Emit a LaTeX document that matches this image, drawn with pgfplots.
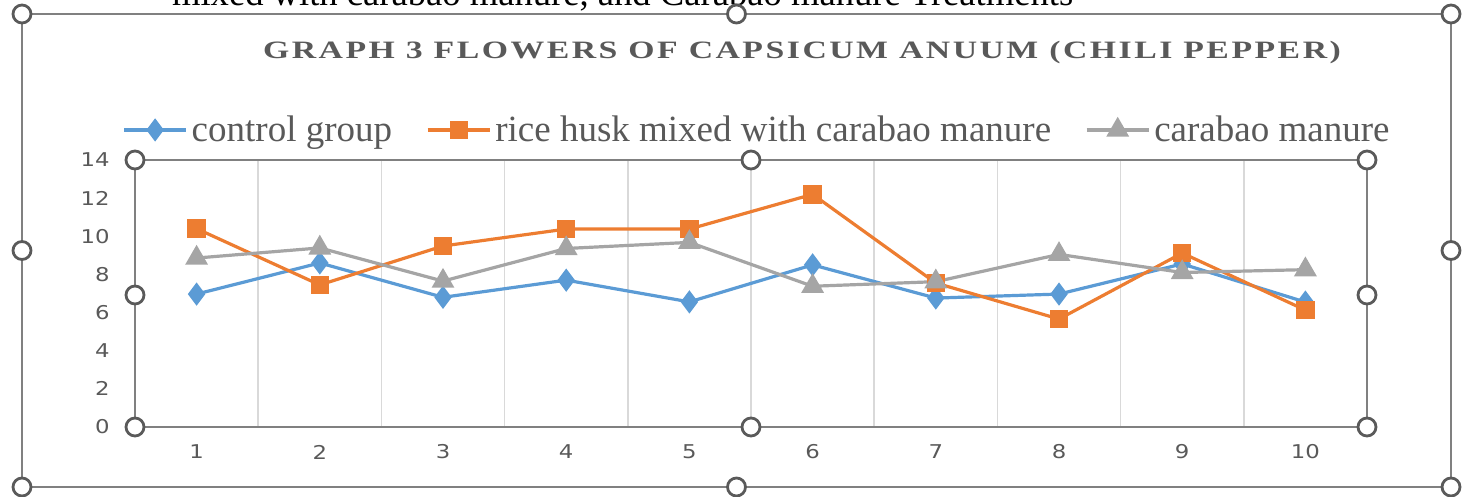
\documentclass[border=0pt]{standalone}
\usepackage{pgfplots}
\pgfplotsset{compat=1.18}
\usepackage{fontspec}
\setmainfont{Liberation Serif}
\newfontfamily\tickfont[FakeStretch=1.2]{DejaVu Sans}
\newfontfamily\titlefont[FakeStretch=1.35,LetterSpace=10]{Liberation Serif}
\definecolor{cblue}{HTML}{5B9BD5}
\definecolor{corange}{HTML}{ED7D31}
\definecolor{cgray}{HTML}{A5A5A5}
\definecolor{txtgray}{HTML}{595959}
\definecolor{framegray}{HTML}{808080}
\definecolor{handle}{HTML}{5A5A5A}
\definecolor{gridgray}{HTML}{D9D9D9}
\begin{document}
\begin{tikzpicture}[handle/.style={circle,draw=handle,line width=1.4pt,fill=white,minimum size=9pt,inner sep=0pt}]
\useasboundingbox (0,0) rectangle (733pt,248.5pt);
\clip (0,0) rectangle (733pt,248.5pt);
% outer chart frame
\draw[framegray,line width=1pt] (11pt,5pt) rectangle (725.5pt,241.5pt);
\node[anchor=base west,font=\fontsize{18.3}{20}\selectfont] at (82.5pt,245.5pt) {mixed with carabao manure, and Carabao manure Treatments};
\node[anchor=base,text=txtgray,font=\titlefont\bfseries\fontsize{12.5}{14}\selectfont] at (401pt,219pt) {GRAPH 3 FLOWERS OF CAPSICUM ANUUM (CHILI PEPPER)};
\begin{axis}[
  at={(67.5pt,35pt)}, anchor=south west,
  scale only axis, width=616pt, height=133.5pt,
  xmin=0.5, xmax=10.5, ymin=0, ymax=14,
  xtick={1,...,10}, ytick={0,2,...,14},
  minor xtick={1.5,2.5,...,9.5},
  xminorgrids, minor grid style={gridgray,line width=0.8pt},
  major tick length=0pt, minor tick length=0pt,
  axis line style={framegray,line width=1pt},
  /pgf/number format/assume math mode=true,
  tick label style={font=\tickfont\fontsize{9.5}{11}\selectfont,text=txtgray,inner sep=0pt},
  xticklabel style={anchor=center,yshift=-12.5pt},
  yticklabel style={anchor=east,xshift=-12.5pt},
  legend columns=3,
  legend style={at={(0.5057,1.1124)},anchor=center,draw=none,fill=none,
    font=\fontsize{18.5}{20}\selectfont,text=txtgray,
    /tikz/every even column/.append style={column sep=15pt},
    nodes={inner sep=2pt}},
  legend image code/.code={\draw[mark repeat=2,mark phase=2,#1] plot coordinates {(0pt,0pt) (15.5pt,0pt) (31pt,0pt)};},
  every axis plot/.append style={line width=1.6pt},
  clip=false,
]
\addplot[cblue,mark=diamond*,mark size=4.5pt,mark options={solid}] coordinates {
(1,6.97) (2,8.6) (3,6.8) (4,7.7) (5,6.56) (6,8.5) (7,6.76) (8,6.97) (9,8.55) (10,6.55)};
\addlegendentry{control group}
\addplot[corange,mark=square*,mark size=3.8pt] coordinates {
(1,10.4) (2,7.45) (3,9.49) (4,10.38) (5,10.38) (6,12.2) (7,7.55) (8,5.66) (9,9.12) (10,6.13)};
\addlegendentry{rice husk mixed with carabao manure}
\addplot[cgray,mark=triangle*,mark size=5pt] coordinates {
(1,8.86) (2,9.39) (3,7.65) (4,9.36) (5,9.68) (6,7.38) (7,7.62) (8,9.05) (9,8.1) (10,8.25)};
\addlegendentry{carabao manure}
\end{axis}
% plot-area selection handles
\foreach \x in {67.5pt,375.5pt,683.5pt}{
  \node[handle] at (\x,35pt) {};
  \node[handle] at (\x,168.5pt) {};
}
\node[handle] at (67.5pt,101pt) {};
\node[handle] at (683.5pt,101pt) {};
% chart-area selection handles
\foreach \x in {11pt,368.25pt,725.5pt}{
  \node[handle] at (\x,5pt) {};
  \node[handle] at (\x,241.5pt) {};
}
\node[handle] at (11pt,123.25pt) {};
\node[handle] at (725.5pt,123.25pt) {};
\end{tikzpicture}
\end{document}
